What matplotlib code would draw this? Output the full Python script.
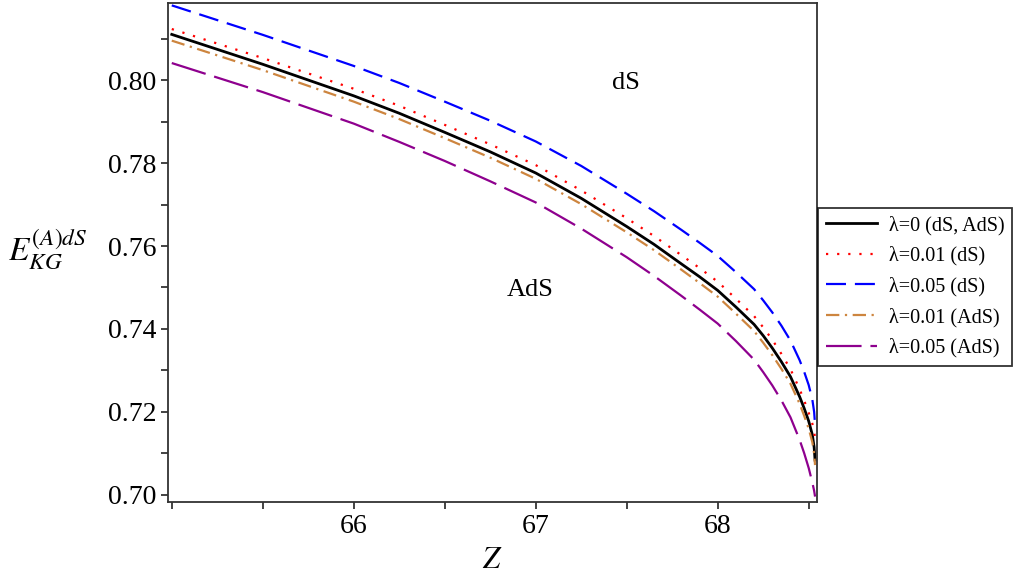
import matplotlib
matplotlib.use("Agg")
import matplotlib.pyplot as plt

plt.rcParams['font.family'] = ['Liberation Serif', 'DejaVu Serif']
plt.rcParams['mathtext.fontset'] = 'stix'

# values
Z = [65.0, 65.5, 66.0, 66.25, 66.5, 66.75, 67.0, 67.25, 67.5, 67.65, 67.8,
     67.9, 68.0, 68.1, 68.2, 68.25, 68.3, 68.35, 68.4, 68.45, 68.475, 68.5,
     68.52, 68.53, 68.535]

E_lam0 = [0.8110, 0.8038, 0.7962, 0.7920, 0.7874, 0.7827, 0.7776, 0.7715,
          0.7647, 0.7604, 0.7557, 0.7526, 0.7493, 0.7453, 0.7411, 0.7384,
          0.7354, 0.7321, 0.7285, 0.7237, 0.7209, 0.7178, 0.7145, 0.7115, 0.7084]
E_ds001 = [0.8123, 0.8053, 0.7979, 0.7938, 0.7892, 0.7845, 0.7795, 0.7734,
           0.7667, 0.7624, 0.7578, 0.7547, 0.7514, 0.7473, 0.7431, 0.7404,
           0.7374, 0.7340, 0.7303, 0.7255, 0.7228, 0.7198, 0.7172, 0.7150, 0.7140]
E_ds005 = [0.8180, 0.8109, 0.8034, 0.7993, 0.7948, 0.7902, 0.7852, 0.7793,
           0.7726, 0.7684, 0.7639, 0.7608, 0.7576, 0.7537, 0.7496, 0.7469,
           0.7440, 0.7408, 0.7372, 0.7325, 0.7297, 0.7265, 0.7230, 0.7200, 0.7169]
E_ads001 = [0.8095, 0.8024, 0.7948, 0.7906, 0.7860, 0.7813, 0.7762, 0.7701,
            0.7633, 0.7590, 0.7543, 0.7511, 0.7478, 0.7437, 0.7395, 0.7367,
            0.7337, 0.7304, 0.7268, 0.7220, 0.7191, 0.7160, 0.7127, 0.7099, 0.7072]
E_ads005 = [0.8041, 0.7971, 0.7895, 0.7851, 0.7805, 0.7756, 0.7705, 0.7642,
            0.7573, 0.7528, 0.7480, 0.7447, 0.7413, 0.7371, 0.7326, 0.7296,
            0.7264, 0.7228, 0.7187, 0.7133, 0.7101, 0.7065, 0.7030, 0.7010, 0.6996]

labels = ["λ=0 (dS, AdS)", "λ=0.01 (dS)", "λ=0.05 (dS)",
          "λ=0.01 (AdS)", "λ=0.05 (AdS)"]

fig = plt.figure(figsize=(10.19, 5.77), dpi=100)
ax = fig.add_axes([0.165, 0.130, 0.637, 0.865])

lw = 1.6
ax.plot(Z, E_lam0, color='black', lw=2.0, label=labels[0])
ax.plot(Z, E_ds001, color='red', lw=lw, dashes=(1, 4), label=labels[1])
ax.plot(Z, E_ds005, color='blue', lw=lw, dashes=(9, 4), label=labels[2])
ax.plot(Z, E_ads001, color='#CD853F', lw=lw, dashes=(6, 2.5, 1, 2.5), label=labels[3])
ax.plot(Z, E_ads005, color='#8E008E', lw=lw, dashes=(16, 4), label=labels[4])

ax.set_xlim(64.98, 68.547)
ax.set_ylim(0.6983, 0.8186)
ax.set_xticks([66, 67, 68])
ax.set_xticks([65, 65.5, 66.5, 67.5, 68.5], minor=True)
ax.set_yticks([0.70, 0.72, 0.74, 0.76, 0.78, 0.80])
ax.set_yticklabels(["0.70", "0.72", "0.74", "0.76", "0.78", "0.80"])
ax.set_yticks([0.71, 0.73, 0.75, 0.77, 0.79, 0.81], minor=True)
ax.tick_params(which='both', direction='out', labelsize=20, width=1.2, color='#222222')
ax.tick_params(which='major', length=5)
ax.tick_params(which='minor', length=5)
for s in ax.spines.values():
    s.set_linewidth(1.3)
    s.set_color('#333333')

ax.text(67.495, 0.7993, "dS", fontsize=19, ha='center', va='center')
ax.text(66.97, 0.7494, "AdS", fontsize=19, ha='center', va='center')

ax.set_xlabel("$Z$", fontsize=22, labelpad=5)
fig.text(0.047, 0.568, "$E_{KG}^{(A)dS}$", fontsize=24, ha='center', va='center')

leg = fig.legend(loc='upper left', bbox_to_anchor=(0.803, 0.640), fontsize=14.5,
                 frameon=True, fancybox=False, handlelength=2.5,
                 borderpad=0.4, labelspacing=0.55, handletextpad=0.6, borderaxespad=0)
leg.get_frame().set_edgecolor('black')
leg.get_frame().set_linewidth(1.3)

fig.savefig("out.png", dpi=100)
